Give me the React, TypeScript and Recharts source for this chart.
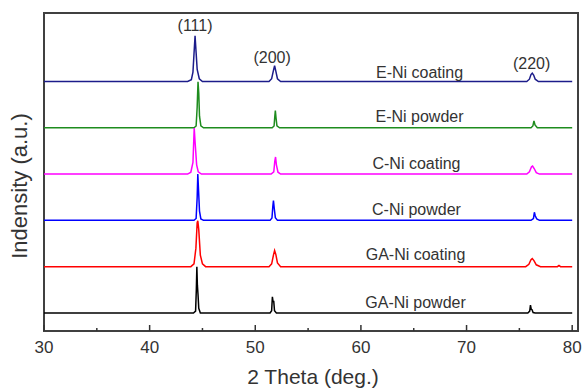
import { LineChart, Line, XAxis, YAxis, ReferenceArea, ReferenceDot } from "recharts"

// 2θ (deg.) / relative intensity pairs
const eNiCoating = [
  [30, 0], [43.6, 0], [43.95, 40], [44.1, 200], [44.2, 600], [44.3, 985], [44.4, 620], [44.5, 260], [44.7, 60], [45.0, 0],
  [51.3, 0], [51.55, 60], [51.7, 220], [51.83, 340], [51.95, 220], [52.1, 60], [52.4, 0],
  [75.7, 0], [75.95, 50], [76.1, 150], [76.22, 180], [76.35, 140], [76.5, 50], [76.8, 0], [80, 0],
]
const eNiPowder = [
  [30, 0], [44.2, 0], [44.4, 40], [44.5, 450], [44.58, 995], [44.65, 750], [44.72, 250], [44.85, 40], [45.1, 0],
  [51.6, 0], [51.78, 40], [51.85, 250], [51.9, 370], [51.97, 200], [52.05, 40], [52.3, 0],
  [76.1, 0], [76.28, 40], [76.38, 150], [76.48, 60], [76.7, 0], [80, 0],
]
const cNiCoating = [
  [30, 0], [43.6, 0], [43.9, 40], [44.1, 250], [44.22, 995], [44.3, 700], [44.45, 200], [44.6, 50], [44.9, 0],
  [51.5, 0], [51.75, 50], [51.85, 280], [51.92, 370], [52.0, 200], [52.15, 40], [52.4, 0],
  [75.7, 0], [75.95, 50], [76.15, 160], [76.25, 175], [76.4, 120], [76.6, 30], [76.9, 0], [80, 0],
]
const cNiPowder = [
  [30, 0], [44.2, 0], [44.4, 40], [44.5, 500], [44.56, 1000], [44.63, 650], [44.72, 200], [44.85, 30], [45.1, 0],
  [51.4, 0], [51.58, 50], [51.66, 300], [51.72, 430], [51.8, 250], [51.9, 60], [52.1, 0],
  [76.1, 0], [76.33, 40], [76.42, 175], [76.5, 100], [76.65, 30], [76.9, 0], [80, 0],
]
const gaNiCoating = [
  [30, 0], [43.9, 0], [44.2, 60], [44.38, 400], [44.5, 950], [44.56, 990], [44.65, 800], [44.8, 250], [45.0, 60], [45.3, 0],
  [51.3, 0], [51.55, 60], [51.72, 250], [51.83, 350], [51.95, 260], [52.1, 80], [52.4, 0],
  [75.6, 0], [75.9, 50], [76.1, 150], [76.22, 175], [76.38, 130], [76.6, 40], [77.0, 0], [78.6, 0], [78.75, 25], [78.9, 0], [80, 0],
]
const gaNiPowder = [
  [30, 0], [44.15, 0], [44.35, 40], [44.42, 500], [44.47, 1000], [44.52, 600], [44.58, 400], [44.65, 100], [44.8, 0],
  [51.4, 0], [51.55, 50], [51.62, 350], [51.68, 250], [51.75, 250], [51.82, 50], [52.0, 0],
  [75.8, 0], [75.98, 40], [76.05, 170], [76.12, 80], [76.2, 70], [76.3, 10], [76.5, 0], [80, 0],
]

const names = ["E-Ni coating", "E-Ni powder", "C-Ni coating", "C-Ni powder", "GA-Ni coating", "GA-Ni powder"]
const patterns = [eNiCoating, eNiPowder, cNiCoating, cNiPowder, gaNiCoating, gaNiPowder]
const offsets = [5000, 4000, 3000, 2000, 1000, 0]
const colors = ["#1c1c8a", "#1e8c1e", "#ff00ff", "#0000ff", "#ff0000", "#000000"]
const nameLabelPos = [[65.55, 5204], [65.55, 4254], [65.26, 3239], [65.26, 2245], [65.17, 1252], [65.17, 236]]

const planes = ["(111)", "(200)", "(220)"]
const planePos = [[44.3, 6220], [51.6, 5528], [76.16, 5399]]

const xTicks = [30, 35, 40, 45, 50, 55, 60, 65, 70, 75, 80]
const xDomain = [30, 80.55]
const yDomain = [-390, 6480]

const font = "'Liberation Sans', Arial, sans-serif"
const ink = "#333333"
const frame = "#404040"

const series = patterns.map((pts, i) => pts.map(([x, v]) => ({ x, y: v + offsets[i] })))

function XTick(props: any) {
  const { x, y, payload } = props
  const major = payload.value % 10 === 0
  return (
    <g>
      <line x1={x} x2={x} y1={y} y2={y - (major ? 6 : 3)} stroke={ink} strokeWidth={1.5} />
      {major && (
        <text x={x} y={y + 22} textAnchor="middle" fontSize={17} fill={ink} fontFamily={font}>
          {payload.value}
        </text>
      )}
    </g>
  )
}

const textDot = (label: string) => (props: any) => (
  <text x={props.cx} y={props.cy} textAnchor="middle" dominantBaseline="central" fontSize={16} fill={ink} fontFamily={font}>
    {label}
  </text>
)

// both axis titles, drawn from the x axis label slot
const AxisTitles = () => (
  <g fontFamily={font} fill={ink}>
    <text x={313} y={384} textAnchor="middle" fontSize={21}>
      2 Theta (deg.)
    </text>
    <text x={27} y={186} transform="rotate(-90 27 186)" textAnchor="middle" fontSize={22}>
      Indensity (a.u.)
    </text>
  </g>
)

export default function App() {
  return (
    <div style={{ position: "absolute", left: 0, top: 0, background: "#fff" }}>
      <LineChart width={582} height={391} margin={{ top: 13, right: 4, left: 44, bottom: 0 }}>
        <XAxis
          dataKey="x"
          type="number"
          domain={xDomain}
          ticks={xTicks}
          interval={0}
          height={60}
          tickSize={0}
          tickMargin={0}
          axisLine={false}
          tickLine={false}
          tick={<XTick />}
          allowDataOverflow
          label={{ content: AxisTitles }}
        />
        <YAxis type="number" domain={yDomain} allowDataOverflow width={0} tick={false} tickLine={false} axisLine={false} />
        <ReferenceArea
          x1={xDomain[0]}
          x2={xDomain[1]}
          y1={yDomain[0]}
          y2={yDomain[1]}
          ifOverflow="visible"
          fill="none"
          stroke={frame}
          strokeWidth={2}
        />
        {series.map((d, i) => (
          <Line
            key={names[i]}
            data={d}
            dataKey="y"
            type="linear"
            stroke={colors[i]}
            strokeWidth={1.5}
            dot={false}
            isAnimationActive={false}
          />
        ))}
        {names.map((n, i) => (
          <ReferenceDot key={n} x={nameLabelPos[i][0]} y={nameLabelPos[i][1]} r={0} shape={textDot(n)} />
        ))}
        {planes.map((p, i) => (
          <ReferenceDot key={p} x={planePos[i][0]} y={planePos[i][1]} r={0} shape={textDot(p)} />
        ))}
      </LineChart>
    </div>
  )
}
